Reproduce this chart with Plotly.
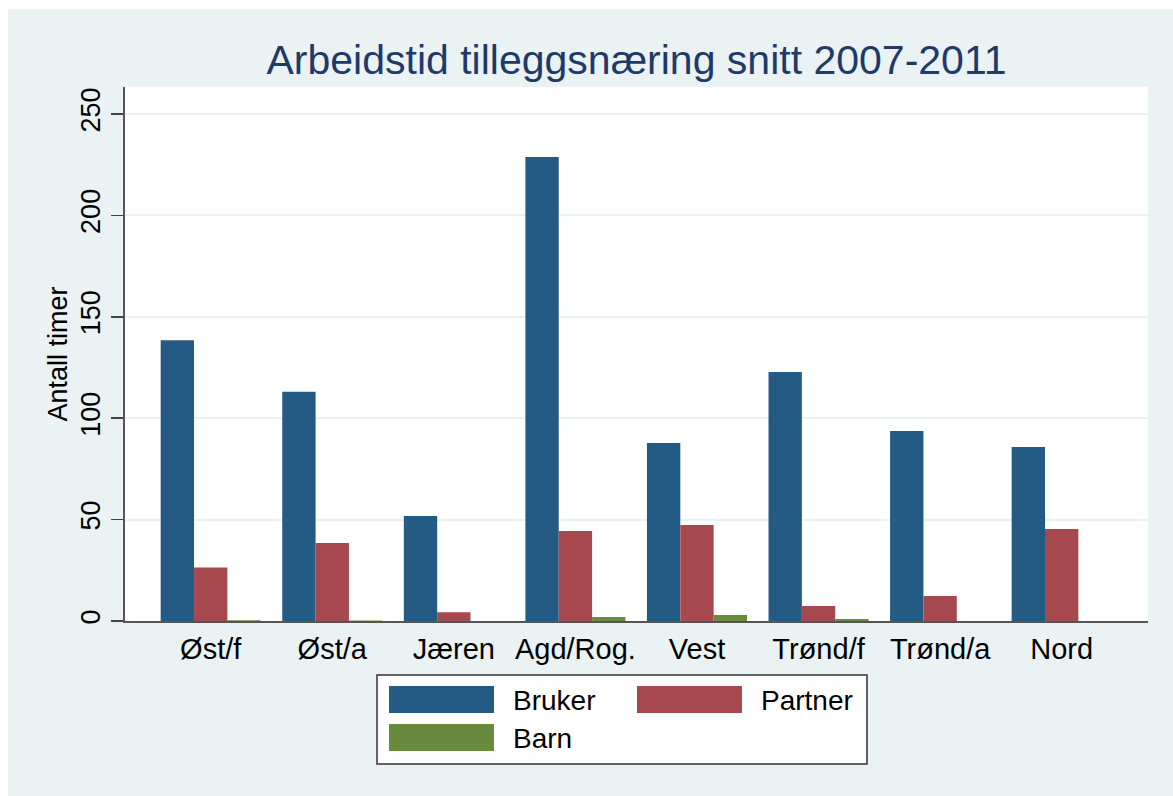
import plotly.graph_objects as go

regions = ["Øst/f", "Øst/a", "Jæren", "Agd/Rog.", "Vest", "Trønd/f", "Trønd/a", "Nord"]
bruker = [138.4, 113.0, 51.8, 228.8, 87.8, 122.8, 93.7, 85.8]
partner = [26.4, 38.5, 4.3, 44.4, 47.3, 7.4, 12.3, 45.4]
barn = [0.4, 0.3, 0.0, 2.0, 3.0, 1.0, 0.0, 0.0]
y_ticks = [0, 50, 100, 150, 200, 250]

title_text = "Arbeidstid tilleggsnæring snitt 2007-2011"
y_title = "Antall timer"

C_BRUKER = "#245B85"
C_PARTNER = "#A5494F"
C_BARN = "#678A3D"
BG = "#EAF2F3"

W, H = 1173, 796
L, R, T, B = 125, 1148, 87, 621  # plot area in pixels
FONT = "Liberation Sans, Arial, sans-serif"


def px(x):
    return (x - L) / (R - L)


def py(y):
    return (B - y) / (B - T)


fig = go.Figure()
for name, vals, col in [("Bruker", bruker, C_BRUKER), ("Partner", partner, C_PARTNER), ("Barn", barn, C_BARN)]:
    fig.add_trace(go.Bar(x=regions, y=vals, name=name, marker=dict(color=col, line=dict(width=0)),
                         showlegend=False, hoverinfo="skip"))

shapes = [
    dict(type="rect", xref="paper", yref="paper", x0=px(8), x1=px(W + 5), y0=py(9), y1=py(H + 5),
         fillcolor=BG, line=dict(width=0), layer="below"),
    dict(type="rect", xref="paper", yref="paper", x0=0, x1=1, y0=0, y1=1,
         fillcolor="white", line=dict(width=0), layer="below"),
    # legend box
    dict(type="rect", xref="paper", yref="paper", x0=px(377), x1=px(867), y0=py(675), y1=py(764),
         fillcolor="white", line=dict(color="#333333", width=1.5), layer="above"),
]
annotations = []
legend_items = [("Bruker", C_BRUKER, 389, 686), ("Partner", C_PARTNER, 637, 686), ("Barn", C_BARN, 389, 724)]
for name, col, x0, y0 in legend_items:
    shapes.append(dict(type="rect", xref="paper", yref="paper", x0=px(x0), x1=px(x0 + 105),
                       y0=py(y0), y1=py(y0 + 27), fillcolor=col, line=dict(width=0), layer="above"))
    annotations.append(dict(xref="paper", yref="paper", x=px(x0 + 122), y=py(y0 + 14), text=name,
                            showarrow=False, xanchor="left", yanchor="middle",
                            font=dict(family=FONT, size=28, color="black")))

fig.update_layout(
    width=W, height=H,
    margin=dict(l=L, r=W - R, t=T, b=H - B, pad=0),
    paper_bgcolor="white",
    plot_bgcolor="white",
    barmode="group",
    bargap=0.177,
    bargroupgap=0,
    title=dict(text=title_text, x=(L + R) / 2 / W, xanchor="center", y=1 - 60 / H, yanchor="middle",
               font=dict(family=FONT, size=41, color="#1E3A6A")),
    font=dict(family=FONT, color="black"),
    shapes=shapes,
    annotations=annotations,
    xaxis=dict(type="category", range=[-0.705, 7.71], showgrid=False, showline=True,
               linecolor="#555555", linewidth=2, ticks="", tickfont=dict(size=29, color="black"),
               ticklabelstandoff=1, fixedrange=True),
    yaxis=dict(range=[0, (B - T) / ((B - 114) / 250)], tickvals=y_ticks, ticktext=[str(v) for v in y_ticks],
               tickangle=-90, ticks="outside", ticklen=12, tickcolor="#444444", tickwidth=1.5,
               showline=True, linecolor="#555555", linewidth=2, showgrid=True, gridcolor=BG, gridwidth=2,
               zeroline=False, tickfont=dict(size=27, color="black"),
               title=dict(text=y_title, font=dict(size=27, color="black"), standoff=1),
               ticklabelstandoff=0, fixedrange=True),
)

fig.write_html("out.html", config={"displayModeBar": False, "staticPlot": True},
               post_script="document.body.style.margin='0px';document.body.style.overflow='hidden';")
